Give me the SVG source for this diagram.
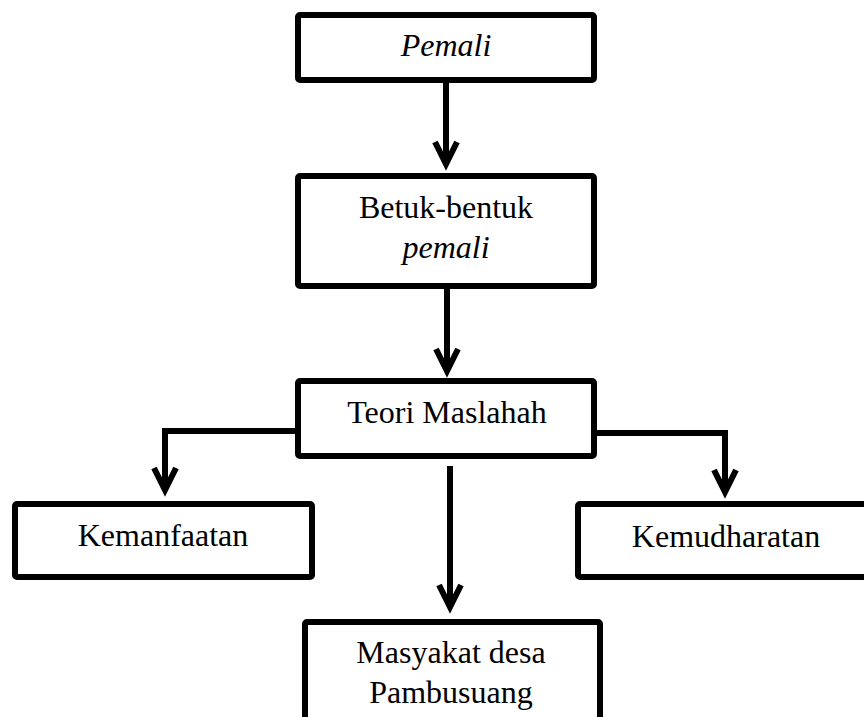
<svg xmlns="http://www.w3.org/2000/svg" width="864" height="717" viewBox="0 0 864 717">
<style>
.box{fill:#fff;stroke:#000;stroke-width:6;stroke-linejoin:round}
.t{font-family:"Liberation Serif","Times New Roman",serif;font-size:32px;fill:#000;text-anchor:middle}
.i{font-style:italic}
.c{fill:none;stroke:#000;stroke-width:6;stroke-linejoin:miter}
</style>
<defs>
<marker id="chev" markerUnits="userSpaceOnUse" viewBox="-4 -16 36 32" markerWidth="36" markerHeight="32" refX="22" refY="0" orient="auto" overflow="visible">
<path d="M0 -11 L22 0 L0 11" fill="none" stroke="#000" stroke-width="6" stroke-linejoin="miter"/>
</marker>
</defs>
<rect width="864" height="717" fill="#fff"/>
<g id="connectors">
<path class="c" d="M446 83 V164" marker-end="url(#chev)"/>
<path class="c" d="M447 289 V371" marker-end="url(#chev)"/>
<path class="c" d="M295 431 H165 V490" marker-end="url(#chev)"/>
<path class="c" d="M595 433 H725 V492" marker-end="url(#chev)"/>
<path class="c" d="M450 466 V607" marker-end="url(#chev)"/>
</g>
<g id="pemali">
<rect class="box" x="298" y="15" width="296" height="65" rx="2"/>
<text class="t i" x="446" y="56">Pemali</text>
</g>
<g id="bentuk">
<rect class="box" x="298" y="176" width="296" height="110" rx="2"/>
<text class="t" x="446" y="218">Betuk-bentuk</text>
<text class="t i" x="446" y="258">pemali</text>
</g>
<g id="teori">
<rect class="box" x="298" y="381" width="296" height="75" rx="2"/>
<text class="t" x="447" y="423">Teori Maslahah</text>
</g>
<g id="kemanfaatan">
<rect class="box" x="15" y="504" width="297" height="73" rx="2"/>
<text class="t" x="163" y="546">Kemanfaatan</text>
</g>
<g id="kemudharatan">
<rect class="box" x="578" y="504" width="300" height="73" rx="2"/>
<text class="t" x="726" y="547">Kemudharatan</text>
</g>
<g id="masyarakat">
<rect class="box" x="305" y="622" width="295" height="130" rx="2"/>
<text class="t" x="451" y="663">Masyakat desa</text>
<text class="t" x="451" y="703">Pambusuang</text>
</g>
</svg>
